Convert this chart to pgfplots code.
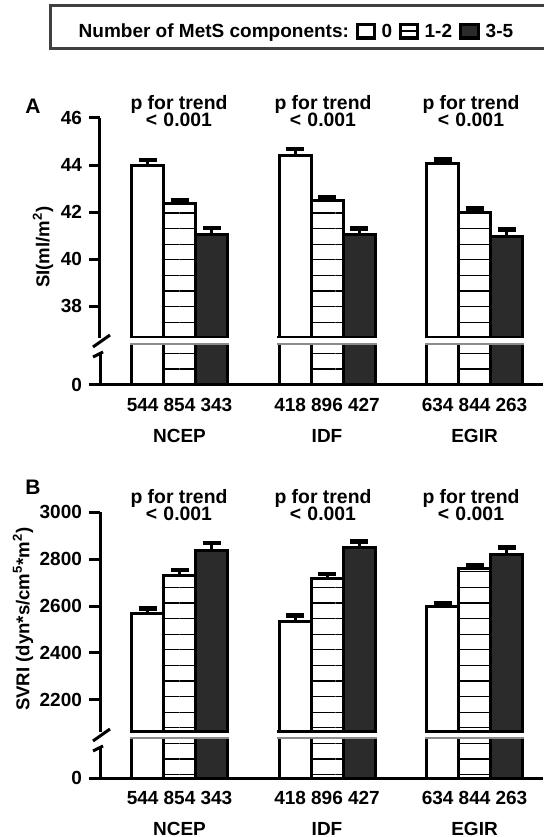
\documentclass[border=0pt]{standalone}
\usepackage{fontspec}
\setmainfont{Liberation Sans}
\usepackage{pgfplots}
\usepackage{pgfplotstable}
\pgfplotsset{compat=1.18}
\usetikzlibrary{patterns.meta}
\definecolor{barblack}{HTML}{2B2B2B}

% Panel A: SI (ml/m^2); groups 0=NCEP, 1=IDF, 2=EGIR
\pgfplotstableread{
g y e
0 44.00 0.22
1 44.40 0.28
2 44.05 0.18
}\Aa
\pgfplotstableread{
g y e
0 42.35 0.17
1 42.50 0.13
2 41.98 0.17
}\Ab
\pgfplotstableread{
g y e
0 41.05 0.28
1 41.06 0.24
2 40.95 0.30
}\Ac
% Panel B: SVRI
\pgfplotstableread{
g y e
0 2569 21
1 2533 27
2 2597 14
}\Ba
\pgfplotstableread{
g y e
0 2730 24
1 2718 18
2 2760 15
}\Bb
\pgfplotstableread{
g y e
0 2838 29
1 2850 24
2 2821 28
}\Bc

\pgfplotsset{
  base/.style={
    scale only axis, width=221.5pt,
    xmin=-0.539, xmax=2.464,
    ybar=0pt, bar width=16pt,
    axis line style={-, line width=1.5pt},
    major tick length=5.5pt,
    tick align=outside,
    ytick style={line width=1.5pt, black},
    tick label style={font=\bfseries\fontsize{9.5}{11}\selectfont},
    /pgf/number format/assume math mode=true,
    /pgf/number format/1000 sep={},
    scaled y ticks=false,
    axis y line*=left,
  },
  upper/.style={base, axis x line=none, xtick=\empty, height=110pt},
  lower/.style={base, axis x line*=bottom, ytick={0},
    xtick={-0.25,0,0.25,0.75,1,1.25,1.75,2,2.25},
    xticklabels={544,{854\\NCEP},343,418,{896\\IDF},427,634,{844\\EGIR},263},
    xticklabel style={align=center, yshift=2.5pt, font=\bfseries\fontsize{9.5}{15.5}\selectfont},
    xtick style={draw=none}},
  s0/.style={draw=black, line width=1.5pt, fill=white},
  s1/.style={draw=black, line width=1.5pt, pattern={Lines[angle=0,distance=7.8pt,line width=0.6pt]}, pattern color=black},
  s2/.style={draw=black, line width=1.5pt, fill=barblack},
  eb/.style={error bars/.cd, y dir=plus, y explicit, error mark=|,
     error bar style={line width=1.5pt, black},
     error mark options={line width=2.2pt, mark size=4.5pt, black}},
}

\begin{document}
\begin{tikzpicture}
\useasboundingbox (0,0) rectangle (271.5pt,418.5pt);

% ---------------- Panel A ----------------
\begin{axis}[upper, at={(50pt,249.5pt)}, anchor=south west,
  ymin=36.64, ymax=46, ytick={38,40,42,44,46},
  legend columns=-1,
  legend style={draw=none, fill=none, at={(0.436,1.391)}, anchor=center,
    font=\bfseries\fontsize{9.5}{11}\selectfont,
    nodes={inner xsep=0pt, inner ysep=1pt},
    /tikz/every odd column/.append style={column sep=2.8pt},
    /tikz/every even column/.append style={column sep=3.5pt}}]
\addlegendimage{empty legend}
\addlegendentry{Number of MetS components:\hspace{4.5pt}}
\addplot[s0, legend image code/.code={\draw[line width=1.6pt,fill=white] (0.3pt,-3pt) rectangle (8.7pt,3.8pt);}, eb]
  table[x=g,y=y,y error=e]{\Aa};
\addlegendentry{0}
\addplot[s1, legend image code/.code={\draw[line width=1.6pt,fill=white] (0.3pt,-3pt) rectangle (8.7pt,3.8pt);\draw[line width=1.2pt] (0.3pt,0.4pt)--(8.7pt,0.4pt);}, eb]
  table[x=g,y=y,y error=e]{\Ab};
\addlegendentry{1-2}
\addplot[s2, legend image code/.code={\draw[line width=1.6pt,fill=barblack] (0.3pt,-3pt) rectangle (9.2pt,3.8pt);}, eb]
  table[x=g,y=y,y error=e]{\Ac};
\addlegendentry{3-5}
\foreach \g in {0,1,2}{
  \edef\tmp{\noexpand\draw[line width=2.4pt] (axis cs:\g-0.336,36.64) -- (axis cs:\g+0.336,36.64);}\tmp
}
\end{axis}

\begin{axis}[lower, at={(50pt,226pt)}, anchor=south west, height=21pt,
  ymin=0, ymax=10]
\addplot[s0] table[x=g,y=y]{\Aa};
\addplot[s1] table[x=g,y=y]{\Ab};
\addplot[s2] table[x=g,y=y]{\Ac};
\foreach \g in {0,1,2}{
  \edef\tmp{\noexpand\draw[line width=2pt, black!45] (axis cs:\g-0.336,10) -- (axis cs:\g+0.336,10);}\tmp
}
\end{axis}

% ---------------- Panel B ----------------
\begin{axis}[upper, at={(50pt,52.5pt)}, anchor=south west,
  ymin=2063.8, ymax=3000, ytick={2200,2400,2600,2800,3000}]
\addplot[s0, eb] table[x=g,y=y,y error=e]{\Ba};
\addplot[s1, eb] table[x=g,y=y,y error=e]{\Bb};
\addplot[s2, eb] table[x=g,y=y,y error=e]{\Bc};
\foreach \g in {0,1,2}{
  \edef\tmp{\noexpand\draw[line width=2.4pt] (axis cs:\g-0.336,2063.8) -- (axis cs:\g+0.336,2063.8);}\tmp
}
\end{axis}

\begin{axis}[lower, at={(50pt,29.5pt)}, anchor=south west, height=20.5pt,
  ymin=0, ymax=200]
\addplot[s0] table[x=g,y=y]{\Ba};
\addplot[s1] table[x=g,y=y]{\Bb};
\addplot[s2] table[x=g,y=y]{\Bc};
\foreach \g in {0,1,2}{
  \edef\tmp{\noexpand\draw[line width=2pt, black!45] (axis cs:\g-0.336,200) -- (axis cs:\g+0.336,200);}\tmp
}
\end{axis}

% ---------------- legend frame ----------------
\draw[black!75, line width=1.5pt] (25pt,394pt) rectangle (276pt,415.5pt);

% ---------------- axis breaks ----------------
\fill[white] (47pt,242.5pt) rectangle (54pt,248pt);
\draw[line width=1.5pt] (55pt,251pt) -- (46.5pt,245pt);
\draw[line width=1.5pt] (46.5pt,240pt) -- (51.5pt,242.5pt);
\fill[white] (47pt,45.5pt) rectangle (54pt,50.5pt);
\draw[line width=1.5pt] (55pt,54pt) -- (46.5pt,48pt);
\draw[line width=1.5pt] (46.5pt,43pt) -- (51.5pt,45.5pt);

% ---------------- texts ----------------
\begin{scope}[every node/.style={inner sep=0pt, font=\bfseries\fontsize{9.7}{11}\selectfont}]
\foreach \xx in {89.5pt,161.5pt,235.5pt}{
  \node[anchor=base] at (\xx,363.9pt) {p for trend};
  \node[anchor=base] at (\xx,355.2pt) {<\hspace{0.32em}0.001};
  \node[anchor=base] at (\xx,166.9pt) {p for trend};
  \node[anchor=base] at (\xx,158.2pt) {<\hspace{0.32em}0.001};
}
\node[anchor=base, font=\bfseries\fontsize{10.5}{12}\selectfont] at (16.5pt,361.9pt) {A};
\node[anchor=base, font=\bfseries\fontsize{10.5}{12}\selectfont] at (16.5pt,171pt) {B};
\node[rotate=90, font=\bfseries\fontsize{9.3}{11}\selectfont] at (21.5pt,295pt) {SI(ml/m\textsuperscript{2})};
\node[rotate=90, font=\bfseries\fontsize{9.3}{11}\selectfont] at (11.5pt,109pt) {SVRI (dyn*s/cm\textsuperscript{5}*m\textsuperscript{2})};
\end{scope}
\end{tikzpicture}
\end{document}
